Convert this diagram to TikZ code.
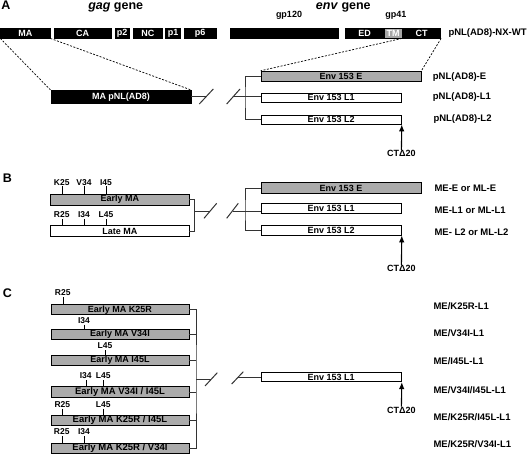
\documentclass[tikz,border=0pt]{standalone}
\usepackage{fontspec}
\setmainfont{Liberation Sans}
\usepackage{tikz}
\usetikzlibrary{arrows.meta}
\begin{document}
\begin{tikzpicture}[x=1pt, y=-1pt, >={Latex[length=7pt, width=5.5pt]},
	box/.style = {draw, rectangle, inner sep=0pt, minimum height=10pt, line width=0.8pt, font=\fontsize{9}{9}\selectfont\bfseries},
	blk/.style = {box, fill=black, text=white},
	gry/.style = {box, fill=black!33},
	wht/.style = {box, fill=white},
	hd/.style = {anchor=base, inner sep=0pt, font=\fontsize{12.5}{13}\selectfont\bfseries},
	tck/.style = {inner sep=0pt, font=\fontsize{9}{10}\selectfont\bfseries},
	mut/.style = {anchor=south, inner sep=1pt, font=\fontsize{8.5}{9}\selectfont\bfseries},
	lbl/.style = {anchor=west, inner sep=0pt, font=\fontsize{9.5}{10}\selectfont\bfseries},
	cn/.style = {draw=black!80, line width=1pt},
	dsh/.style = {draw=black, line width=0.7pt, dash pattern=on 2pt off 1.5pt}]
	\useasboundingbox (0,0) rectangle (529,454);
	\node[hd] (A) at (6,10) {A};
	\node[hd] (gag) at (115.7,10) {\textit{gag} gene};
	\node[hd] (env) at (343.3,10) {\textit{env} gene};
	\node[tck] (gp120) at (289,15) {gp120};
	\node[tck] (gp41) at (395.8,15) {gp41};
	\node[blk, minimum width=49.3pt] (MA) at (25.3,33) {MA};
	\node[blk, minimum width=56.7pt] (CA) at (82.7,33) {CA};
	\node[blk, minimum width=14.3pt] (p2) at (122.2,33) {p2};
	\node[blk, minimum width=29pt] (NC) at (147.8,33) {NC};
	\node[blk, minimum width=14.6pt] (p1) at (173,33) {p1};
	\node[blk, minimum width=31.7pt] (p6) at (200.2,33) {p6};
	\node[blk, minimum width=108.3pt] (SU) at (284.2,33) {};
	\node[blk, minimum width=39pt] (ED) at (364.5,33) {ED};
	\node[box, fill=black!35, text=white, minimum width=18.3pt] (TM) at (393.2,33) {TM};
	\node[blk, minimum width=38.4pt] (CT) at (421.5,33) {CT};
	\node[lbl] (wt) at (448.3,33) {pNL(AD8)-NX-WT};
	\node[blk, minimum width=140pt, minimum height=13pt] (MApNL) at (121,97) {MA pNL(AD8)};
	\draw[dsh] (MA.south west) -- (MApNL.north west);
	\draw[dsh] (MA.south east) -- (MApNL.north east);
	\node[gry, minimum width=160pt] (EA) at (341,76.2) {Env 153 E};
	\node[wht, minimum width=140.4pt, minimum height=9pt] (L1A) at (331.2,97.5) {Env 153 L1};
	\node[wht, minimum width=140.4pt, minimum height=9pt] (L2A) at (331.2,119.5) {Env 153 L2};
	\draw[dsh] (CT.south west) -- (EA.north west);
	\draw[dsh] (CT.south east) -- (EA.north east);
	\coordinate (sA1) at (206.3,97);
	\coordinate (sA2) at (233.3,97);
	\coordinate (jA) at (245,97);
	\draw[cn] (MApNL.east) -- (sA1);
	\draw[cn] (199.3,104) -- (213.3,89);
	\draw[cn] (226.7,104) -- (240,89);
	\draw[cn] (sA2) -- (jA);
	\draw[cn] (EA.west) -| (jA) |- (L2A.west);
	\draw[cn] (jA) -- (jA -| L1A.west);
	\node[tck] (ctA) at (401.4,153.3) {CTΔ20};
	\draw[->, line width=1.1pt] (ctA.north) -- (L2A.south east);
	\node[lbl] (pE) at (432.7,76.7) {pNL(AD8)-E};
	\node[lbl] (pL1) at (432.7,97) {pNL(AD8)-L1};
	\node[lbl] (pL2) at (433.3,119) {pNL(AD8)-L2};
	\node[hd] (B) at (7.5,182.5) {B};
	\node[gry, minimum width=138.3pt, minimum height=11pt] (early) at (119.9,199.5) {Early MA};
	\node[wht, minimum width=138.3pt, minimum height=11pt] (late) at (119.9,231.2) {Late MA};
	\node[mut] (K25) at (61.7,186.5) {K25};
	\node[mut] (V34) at (84,186.5) {V34};
	\node[mut] (I45) at (106,186.5) {I45};
	\draw (K25.south) -- (K25.south |- early.north);
	\draw (V34.south) -- (V34.south |- early.north);
	\draw (I45.south) -- (I45.south |- early.north);
	\node[mut] (R25) at (61.7,219) {R25};
	\node[mut] (I34) at (84,219) {I34};
	\node[mut] (L45) at (106,219) {L45};
	\draw (R25.south) -- (R25.south |- late.north);
	\draw (I34.south) -- (I34.south |- late.north);
	\draw (L45.south) -- (L45.south |- late.north);
	\coordinate (jBL) at (194.5,211);
	\coordinate (sB1) at (210.4,211);
	\coordinate (sB2) at (232.5,211);
	\coordinate (jB) at (245,211);
	\draw[cn] (early.east) -| (jBL) |- (late.east);
	\draw[cn] (jBL) -- (sB1);
	\draw[cn] (204,218.3) -- (216.7,203.3);
	\draw[cn] (226.7,218.3) -- (238.3,203.3);
	\draw[cn] (sB2) -- (jB);
	\node[gry, minimum width=160pt, minimum height=11pt] (EB) at (341,188.3) {Env 153 E};
	\node[wht, minimum width=140.4pt] (L1B) at (331.2,208.3) {Env 153 L1};
	\node[wht, minimum width=140.4pt] (L2B) at (331.2,230) {Env 153 L2};
	\draw[cn] (EB.west) -| (jB) |- (L2B.west);
	\draw[cn] (jB) -- (jB -| L1B.west);
	\node[tck] (ctB) at (401.4,268.3) {CTΔ20};
	\draw[->, line width=1.1pt] (ctB.north) -- (L2B.south east);
	\node[lbl] (mE) at (434.3,188.3) {ME-E or ML-E};
	\node[lbl] (mL1) at (434.3,210.7) {ME-L1 or ML-L1};
	\node[lbl] (mL2) at (434.3,232.3) {ME- L2 or ML-L2};
	\node[hd] (C) at (7.5,297.5) {C};
	\node[gry, minimum width=138pt] (c1) at (120,309.7) {Early MA K25R};
	\node[gry, minimum width=138pt] (c2) at (120,334.5) {Early MA V34I};
	\node[gry, minimum width=138pt] (c3) at (120,360.5) {Early MA I45L};
	\node[gry, minimum width=138pt, minimum height=10.6pt, font=\fontsize{9.5}{10}\selectfont\bfseries] (c4) at (120,392) {Early MA V34I / I45L};
	\node[gry, minimum width=138pt, font=\fontsize{9.5}{10}\selectfont\bfseries] (c5) at (120,420.3) {Early MA K25R / I45L};
	\node[gry, minimum width=138pt, font=\fontsize{9.5}{10}\selectfont\bfseries] (c6) at (120,448.3) {Early MA K25R / V34I};
	\node[mut] (c1R25) at (62.7,297) {R25};
	\node[mut] (c2I34) at (84,324.5) {I34};
	\node[mut] (c3L45) at (105,350) {L45};
	\node[mut] (c4I34) at (85.7,380) {I34};
	\node[mut] (c4L45) at (103.3,380) {L45};
	\node[mut] (c5R25) at (62.3,408.5) {R25};
	\node[mut] (c5L45) at (103.3,408.5) {L45};
	\node[mut] (c6R25) at (61.7,436) {R25};
	\node[mut] (c6I34) at (84,436) {I34};
	\draw (c1R25.south) -- (c1R25.south |- c1.north);
	\draw (c2I34.south) -- (c2I34.south |- c2.north);
	\draw (c3L45.south) -- (c3L45.south |- c3.north);
	\draw (c4I34.south) -- (c4I34.south |- c4.north);
	\draw (c4L45.south) -- (c4L45.south |- c4.north);
	\draw (c5R25.south) -- (c5R25.south |- c5.north);
	\draw (c5L45.south) -- (c5L45.south |- c5.north);
	\draw (c6R25.south) -- (c6R25.south |- c6.north);
	\draw (c6I34.south) -- (c6I34.south |- c6.north);
	\coordinate (jCL) at (196,379.5);
	\coordinate (sC1) at (211.2,379.5);
	\coordinate (sC2) at (237.5,377.2);
	\draw[cn] (c1.east) -| (jCL) |- (c6.east);
	\draw[cn] (c2.east) -- (c2.east -| jCL);
	\draw[cn] (c3.east) -- (c3.east -| jCL);
	\draw[cn] (c4.east) -- (c4.east -| jCL);
	\draw[cn] (c5.east) -- (c5.east -| jCL);
	\draw[cn] (jCL) -- (sC1);
	\draw[cn] (205,386) -- (217.3,372.7);
	\draw[cn] (231.7,384) -- (243.3,371.7);
	\node[wht, minimum width=140.4pt, minimum height=9pt] (LC) at (331.2,377.2) {Env 153 L1};
	\draw[cn] (sC2) -- (LC.west);
	\node[tck] (ctC) at (401.4,410) {CTΔ20};
	\draw[->, line width=1.1pt] (ctC.north) -- (LC.south east);
	\node[lbl] (r1) at (433.3,306) {ME/K25R-L1};
	\node[lbl] (r2) at (433.3,333.3) {ME/V34I-L1};
	\node[lbl] (r3) at (433.3,361) {ME/I45L-L1};
	\node[lbl] (r4) at (433.3,390) {ME/V34I/I45L-L1};
	\node[lbl] (r5) at (433.3,417.3) {ME/K25R/I45L-L1};
	\node[lbl] (r6) at (433.3,444) {ME/K25R/V34I-L1};
\end{tikzpicture}
\end{document}
